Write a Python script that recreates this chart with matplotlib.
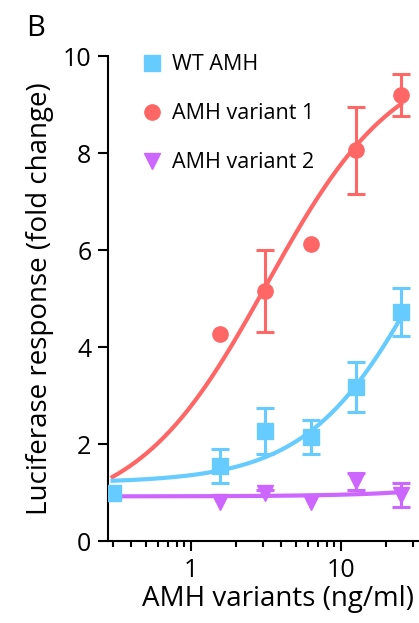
import numpy as np
import matplotlib
matplotlib.use("Agg")
import matplotlib.pyplot as plt

plt.rcParams["font.family"] = ["Open Sans", "DejaVu Sans"]

# doses (ng/ml), the first one is the vehicle plotted at 0.3
dose = [0.3, 1.5625, 3.125, 6.25, 12.5, 25]
dose_var = [1.5625, 3.125, 6.25, 12.5, 25]

wt_mean = [0.99, 1.55, 2.27, 2.15, 3.18, 4.72]
wt_err = [0.0, 0.35, 0.48, 0.35, 0.52, 0.5]

var1_mean = [4.27, 5.15, 6.12, 8.06, 9.2]
var1_err = [0.0, 0.85, 0.0, 0.9, 0.43]

var2_mean = [0.8, 1.0, 0.8, 1.23, 0.95]
var2_err = [0.0, 0.05, 0.0, 0.17, 0.24]

# fitted dose-response parameters (bottom, top, EC50, hill)
wt_fit = (1.2, 10.0, 38.0, 1.1)
var1_fit = (0.5, 10.1, 3.2, 1.0)
var2_fit = (0.92, 0.0035)  # intercept, slope

BLUE = "#66ccff"
RED = "#ff6666"
PURPLE = "#cc66ff"


def logistic(x, p):
    bottom, top, ec50, hill = p
    return bottom + (top - bottom) / (1 + (ec50 / x) ** hill)


def draw_series(ax, x, y, err, color, marker, label, z):
    x = np.asarray(x)
    y = np.asarray(y)
    err = np.asarray(err)
    keep = err > 0
    ax.errorbar(x[keep], y[keep], yerr=err[keep], fmt="none", ecolor=color,
                elinewidth=2.2, capsize=6.5, capthick=2.2, zorder=z)
    ax.plot(x, y, marker, color=color, ms=11, ls="none", zorder=z + 0.5,
            label=label)


def main():
    fig = plt.figure(figsize=(4.19, 6.23), dpi=100)
    ax = fig.add_axes([0.258, 0.1316, 0.742, 0.7784])

    xs = np.logspace(np.log10(0.3), np.log10(25), 200)

    ax.plot(xs, logistic(xs, var1_fit), color=RED, lw=3, zorder=2)
    ax.plot(xs, logistic(xs, wt_fit), color=BLUE, lw=3, zorder=2)
    ax.plot(xs, var2_fit[0] + var2_fit[1] * xs, color=PURPLE, lw=3, zorder=2)

    draw_series(ax, dose_var, var2_mean, var2_err, PURPLE, "v",
                "AMH variant 2", 3)
    draw_series(ax, dose, wt_mean, wt_err, BLUE, "s", "WT AMH", 4)
    draw_series(ax, dose_var, var1_mean, var1_err, RED, "o",
                "AMH variant 1", 4)

    ax.set_xscale("log")
    ax.set_xlim(0.28, 33)
    ax.set_ylim(0, 10)
    ax.set_yticks([0, 2, 4, 6, 8, 10])
    ax.set_xticks([1, 10])
    ax.set_xticklabels(["1", "10"])

    for s in ["top", "right"]:
        ax.spines[s].set_visible(False)
    for s in ["left", "bottom"]:
        ax.spines[s].set_linewidth(1.5)
        ax.spines[s].set_clip_on(False)

    ax.tick_params(which="major", length=7, width=1.5, labelsize=18, pad=5)
    ax.tick_params(which="minor", length=4.5, width=1.5)
    ax.tick_params(axis="y", which="minor", left=False)

    ax.set_xlabel("AMH variants (ng/ml)", fontsize=20)
    ax.xaxis.set_label_coords(0.545, -0.09)
    ax.set_ylabel("Luciferase response (fold change)", fontsize=20,
                  labelpad=6)

    handles, labels = ax.get_legend_handles_labels()
    order = [1, 2, 0]
    ax.legend([handles[i] for i in order], [labels[i] for i in order],
              loc="upper left", bbox_to_anchor=(0.065, 1.035),
              frameon=False, fontsize=15.5, handlelength=0.8,
              handletextpad=0.55, labelspacing=1.3, borderpad=0.2)

    fig.text(0.062, 0.943, "B", fontsize=21)

    fig.savefig("out.png", dpi=100)


if __name__ == "__main__":
    main()
